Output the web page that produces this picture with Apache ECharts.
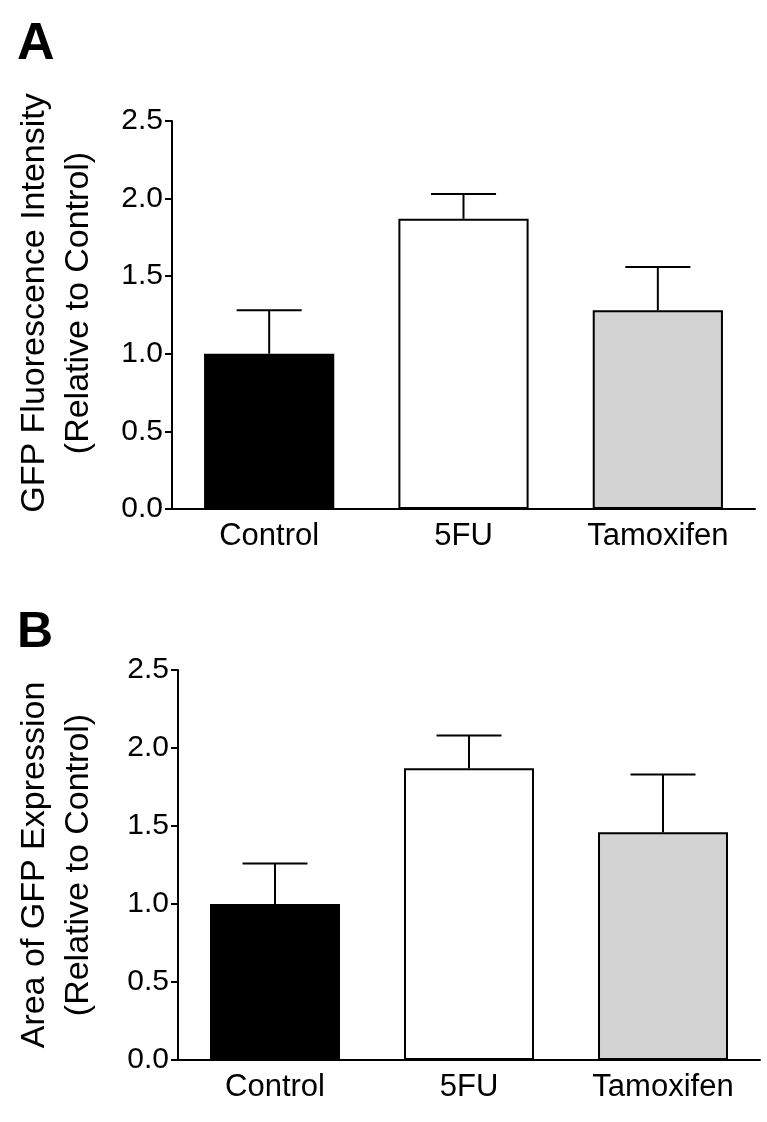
<!DOCTYPE html>
<html>
<head>
<meta charset="utf-8">
<script src="https://cdn.jsdelivr.net/npm/echarts@6/dist/echarts.min.js"></script>
<style>
html,body{margin:0;padding:0;background:#fff;}
#chart{width:767px;height:1122px;}
</style>
</head>
<body>
<div id="chart"></div>
<script>
const categories = ['Control', '5FU', 'Tamoxifen'];
const meanA = [1.0, 1.87, 1.28];
const semA = [0.28, 0.16, 0.28];
const meanB = [1.0, 1.87, 1.46];
const semB = [0.26, 0.21, 0.37];
const barColors = ['#000000', '#ffffff', '#d3d3d3'];
const yTitleA = 'GFP Fluorescence Intensity\n(Relative to Control)';
const yTitleB = 'Area of GFP Expression\n(Relative to Control)';

const FONT = 'Liberation Sans, Arial, Helvetica, sans-serif';
const chart = echarts.init(document.getElementById('chart'), null, {renderer: 'canvas'});

function xAxisCfg(gi) {
  return {
    gridIndex: gi, type: 'category', data: categories, boundaryGap: true,
    axisLine: {lineStyle: {color: '#000', width: 2}},
    axisTick: {alignWithLabel: true, length: 9, lineStyle: {color: '#000', width: 2}},
    axisLabel: {color: '#000', fontSize: 31, fontFamily: FONT, margin: 12}
  };
}
function yAxisCfg(gi, name, gap, shift) {
  return {
    gridIndex: gi, type: 'value', min: 0, max: 2.5, interval: 0.5,
    name: name, nameLocation: 'middle', nameRotate: 90, nameGap: gap,
    nameTextStyle: {color: '#000', fontSize: 34, fontFamily: FONT, lineHeight: 44,
      padding: [0, 0, 0, shift]},
    axisLine: {show: true, lineStyle: {color: '#000', width: 2}},
    axisTick: {show: true, length: 7, lineStyle: {color: '#000', width: 2}},
    axisLabel: {color: '#000', fontSize: 30, fontFamily: FONT, margin: 9,
      formatter: v => v.toFixed(1)},
    splitLine: {show: false}
  };
}
function barSeries(gi, means) {
  return {
    type: 'bar', xAxisIndex: gi, yAxisIndex: gi, barWidth: '67%',
    data: means.map((v, i) => ({value: v, itemStyle: {color: barColors[i], borderColor: '#000', borderWidth: 2}})),
    z: 2
  };
}
function errSeries(gi, means, sems) {
  return {
    type: 'custom', xAxisIndex: gi, yAxisIndex: gi, z: 3,
    data: means.map((m, i) => [i, m, sems[i]]),
    renderItem: function (params, api) {
      const x = api.value(0), m = api.value(1), s = api.value(2);
      const top = api.coord([x, m + s]);
      const base = api.coord([x, m]);
      const half = api.size([1, 0])[0] * 0.67 / 4;
      const st = {stroke: '#000', lineWidth: 2};
      return {type: 'group', children: [
        {type: 'line', shape: {x1: top[0], y1: top[1], x2: base[0], y2: base[1]}, style: st},
        {type: 'line', shape: {x1: top[0] - half, y1: top[1], x2: top[0] + half, y2: top[1]}, style: st}
      ]};
    }
  };
}

chart.setOption({
  backgroundColor: '#fff',
  animation: false,
  title: [
    {text: 'A', left: 12, top: 14, textStyle: {fontSize: 52, fontWeight: 'bold', color: '#000', fontFamily: FONT}},
    {text: 'B', left: 12, top: 603, textStyle: {fontSize: 50, fontWeight: 'bold', color: '#000', fontFamily: FONT}}
  ],
  grid: [
    {left: 172, right: 12, top: 121, bottom: 613, containLabel: false},
    {left: 178, right: 7, top: 670, bottom: 62, containLabel: false}
  ],
  xAxis: [xAxisCfg(0), xAxisCfg(1)],
  yAxis: [yAxisCfg(0, yTitleA, 71, 24), yAxisCfg(1, yTitleB, 77, 0)],
  series: [
    barSeries(0, meanA), errSeries(0, meanA, semA),
    barSeries(1, meanB), errSeries(1, meanB, semB)
  ]
});
</script>
</body>
</html>
